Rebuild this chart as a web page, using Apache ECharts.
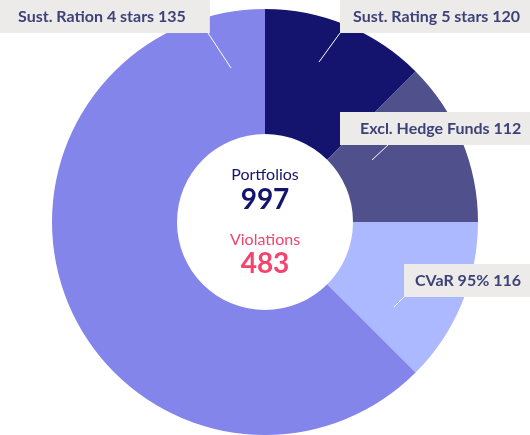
<!DOCTYPE html>
<html><head><meta charset="utf-8">
<script src="https://cdn.jsdelivr.net/npm/echarts@6/dist/echarts.min.js"></script>
<style>html,body{margin:0;padding:0;background:#fff}#main{width:530px;height:435px}</style>
</head><body><div id="main"></div>
<script>
// ---- data ----
const categories = ['Sust. Rating 5 stars', 'Excl. Hedge Funds', 'CVaR 95%', 'Sust. Ration 4 stars'];
const counts = [120, 112, 116, 135];          // numbers shown in the labels
const sliceShares = [1, 1, 1, 5];             // slice sizes as drawn (45°,45°,45°,225°)
const centerLabels = ['Portfolios', 'Violations'];
const centerValues = [997, 483];

// ---- styling / layout (not data) ----
const sliceColors = ['#14146e', '#50508c', '#adb9fe', '#8385ea'];
const labelBoxes = [
  { x: 340, y: 0,   padding: [9, 20, 9, 13], line: [319, 62, 340, 33] },
  { x: 340, y: 112, padding: [9, 20, 9, 20], line: [372, 160, 388, 145] },
  { x: 404, y: 264, padding: [9, 20, 9, 11], line: [394, 307, 404, 297] },
  { x: 0,   y: 0,   padding: [9, 24, 9, 18], line: [231, 68, 208, 33] }
];

const chart = echarts.init(document.getElementById('main'), null, { renderer: 'canvas' });

const seriesData = categories.map((name, i) => ({
  name: name,
  value: sliceShares[i],
  itemStyle: { color: sliceColors[i] },
  label: { padding: labelBoxes[i].padding }
}));

const navy = '#14146e';
const pink = '#f4436c';

const leaderLines = labelBoxes.map(b => ({
  type: 'line', z: 100,
  shape: { x1: b.line[0], y1: b.line[1], x2: b.line[2], y2: b.line[3] },
  style: { stroke: '#ffffff', lineWidth: 1 }
}));

chart.setOption({
  animation: false,
  series: [{
    type: 'pie',
    center: ['50%', 222],
    radius: [88, 213],
    startAngle: 90,
    clockwise: true,
    avoidLabelOverlap: false,
    emphasis: { disabled: true },
    data: seriesData,
    label: {
      show: true,
      position: 'outside',
      formatter: p => p.name + ' ' + counts[p.dataIndex],
      fontFamily: 'Lato',
      fontWeight: 'bold',
      fontSize: 16,
      lineHeight: 15,
      color: '#3c4278',
      backgroundColor: '#ecebe9'
    },
    labelLine: { show: false },
    labelLayout: function (params) {
      const b = labelBoxes[params.dataIndex];
      return { x: b.x, y: b.y, align: 'left', verticalAlign: 'top' };
    }
  }],
  graphic: leaderLines.concat([
    { type: 'text', x: 265, y: 175, style: { text: centerLabels[0], font: '16px Lato', fill: navy, textAlign: 'center', textVerticalAlign: 'middle' } },
    { type: 'text', x: 265, y: 200, style: { text: String(centerValues[0]), font: 'bold 28px Lato', fill: navy, textAlign: 'center', textVerticalAlign: 'middle' } },
    { type: 'text', x: 265, y: 240, style: { text: centerLabels[1], font: '16px Lato', fill: pink, textAlign: 'center', textVerticalAlign: 'middle' } },
    { type: 'text', x: 265, y: 264, style: { text: String(centerValues[1]), font: 'bold 28px Lato', fill: pink, textAlign: 'center', textVerticalAlign: 'middle' } }
  ])
});
</script>
</body></html>
